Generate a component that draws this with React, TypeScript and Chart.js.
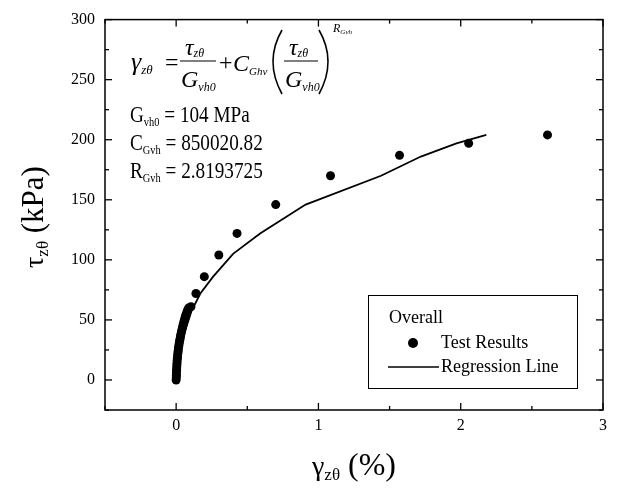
import React, { useEffect, useRef } from "react";
import { Chart, registerables } from "chart.js";

Chart.register(...registerables);

// Test results (gamma in %, tau in kPa)
const testX = [0, 0.001, 0.002, 0.002, 0.003, 0.004, 0.005, 0.006, 0.007, 0.009, 0.010, 0.012, 0.014, 0.016, 0.018, 0.021, 0.024, 0.027, 0.030, 0.033, 0.037, 0.041, 0.045, 0.049, 0.053, 0.058, 0.063, 0.068, 0.074, 0.080, 0.088, 0.104, 0.139, 0.198, 0.300, 0.428, 0.700, 1.085, 1.570, 2.056, 2.610];
const testY = [0, 2, 4, 6, 8, 10, 12, 14, 16, 18, 20, 22, 24, 26, 28, 30, 32, 34, 36, 38, 40, 42, 44, 46, 48, 50, 52, 54, 56, 58, 60, 61, 72, 86, 104, 122, 146, 170, 187, 197, 204];

// Regression line
const lineX = [0, 0.02, 0.06, 0.11, 0.17, 0.26, 0.40, 0.59, 0.91, 1.44, 1.72, 1.97, 2.18];
const lineY = [0, 20, 40, 58, 72, 86, 105, 122, 146, 170, 186, 197, 204];

// Axis ticks
const xMajor = [0, 1, 2, 3];
const xMinor = [-0.5, 0.5, 1.5, 2.5];
const yMajor = [0, 50, 100, 150, 200, 250, 300];
const yMinor = [-25, 25, 75, 125, 175, 225, 275];

const SERIF = "'Liberation Serif', 'Times New Roman', serif";

type Part = { t: string; size: number; italic?: boolean; dy?: number };

function drawRich(ctx: CanvasRenderingContext2D, parts: Part[], x: number, y: number, sx = 1) {
  let cx = x;
  for (const p of parts) {
    ctx.font = `${p.italic ? "italic " : ""}${p.size}px ${SERIF}`;
    ctx.save();
    ctx.translate(cx, y + (p.dy || 0));
    ctx.scale(sx, 1);
    ctx.fillText(p.t, 0, 0);
    ctx.restore();
    cx += ctx.measureText(p.t).width * sx;
  }
  return cx - x;
}

function richWidth(ctx: CanvasRenderingContext2D, parts: Part[], sx = 1) {
  let w = 0;
  for (const p of parts) {
    ctx.font = `${p.italic ? "italic " : ""}${p.size}px ${SERIF}`;
    w += ctx.measureText(p.t).width * sx;
  }
  return w;
}

const decorPlugin = {
  id: "decor",
  afterDraw(chart: any) {
    const ctx: CanvasRenderingContext2D = chart.ctx;
    const { left, right, top, bottom } = chart.chartArea;
    const xs = chart.scales.x;
    const ys = chart.scales.y;
    ctx.save();
    ctx.strokeStyle = "#000";
    ctx.fillStyle = "#000";
    ctx.lineWidth = 1.5;
    ctx.strokeRect(left, top, right - left, bottom - top);

    // inward ticks
    ctx.lineWidth = 1.3;
    const tick = (x1: number, y1: number, x2: number, y2: number) => {
      ctx.beginPath();
      ctx.moveTo(x1, y1);
      ctx.lineTo(x2, y2);
      ctx.stroke();
    };
    xMajor.forEach((v) => {
      const px = xs.getPixelForValue(v);
      tick(px, bottom, px, bottom - 7);
      tick(px, top, px, top + 7);
    });
    xMinor.forEach((v) => {
      const px = xs.getPixelForValue(v);
      tick(px, bottom, px, bottom - 4);
      tick(px, top, px, top + 4);
    });
    yMajor.forEach((v) => {
      const py = ys.getPixelForValue(v);
      tick(left, py, left + 7, py);
      tick(right, py, right - 7, py);
    });
    yMinor.forEach((v) => {
      const py = ys.getPixelForValue(v);
      tick(left, py, left + 4, py);
      tick(right, py, right - 4, py);
    });

    ctx.textBaseline = "alphabetic";
    ctx.textAlign = "left";

    // Axis titles
    drawRich(ctx, [
      { t: "γ", size: 28 },
      { t: "zθ", size: 17, dy: 5 },
      { t: " (%)", size: 32 },
    ], 312, 475);

    const yParts: Part[] = [
      { t: "τ", size: 28 },
      { t: "zθ", size: 17, dy: 5 },
      { t: " (kPa)", size: 31 },
    ];
    const yw = richWidth(ctx, yParts);
    ctx.save();
    ctx.translate(43, 217);
    ctx.rotate(-Math.PI / 2);
    drawRich(ctx, yParts, -yw / 2, 0);
    ctx.restore();

    // Formula
    const F = 24;
    const S = 12;
    drawRich(ctx, [{ t: "γ", size: 26, italic: true }, { t: "zθ", size: 13, italic: true, dy: 4 }], 131, 70);
    drawRich(ctx, [{ t: "=", size: F }], 165, 70);
    // fraction 1
    ctx.lineWidth = 1;
    tick(180, 61, 216, 61);
    drawRich(ctx, [{ t: "τ", size: F, italic: true }, { t: "zθ", size: S, italic: true, dy: 2 }], 185, 55);
    drawRich(ctx, [{ t: "G", size: F, italic: true }, { t: "vh0", size: S, italic: true, dy: 4 }], 181, 87);
    drawRich(ctx, [{ t: "+", size: F }], 219, 70);
    drawRich(ctx, [{ t: "C", size: F, italic: true }, { t: "Ghv", size: 11, italic: true, dy: 4 }], 233, 71);
    // parentheses
    ctx.lineWidth = 1.6;
    ctx.beginPath();
    ctx.moveTo(282, 30);
    ctx.quadraticCurveTo(264, 61, 282, 94);
    ctx.stroke();
    ctx.beginPath();
    ctx.moveTo(319, 30);
    ctx.quadraticCurveTo(337, 61, 319, 94);
    ctx.stroke();
    // fraction 2
    ctx.lineWidth = 1;
    tick(284, 61, 318, 61);
    drawRich(ctx, [{ t: "τ", size: F, italic: true }, { t: "zθ", size: S, italic: true, dy: 2 }], 289, 55);
    drawRich(ctx, [{ t: "G", size: F, italic: true }, { t: "vh0", size: S, italic: true, dy: 4 }], 285, 87);
    // exponent
    drawRich(ctx, [{ t: "R", size: 12, italic: true }, { t: "Gvh", size: 7, italic: true, dy: 2 }], 333, 32);

    // Parameters
    const P = 24;
    const sx = 0.8;
    drawRich(ctx, [{ t: "G", size: P }, { t: "vh0", size: 13, dy: 4 }, { t: " = 104 MPa", size: P }], 130, 122, sx);
    drawRich(ctx, [{ t: "C", size: P }, { t: "Gvh", size: 13, dy: 4 }, { t: " = 850020.82", size: P }], 130, 150, sx);
    drawRich(ctx, [{ t: "R", size: P }, { t: "Gvh", size: 13, dy: 4 }, { t: " = 2.8193725", size: P }], 130, 178, sx);

    // Legend
    ctx.lineWidth = 1;
    ctx.strokeRect(368.5, 295.5, 209, 93);
    ctx.font = `18px ${SERIF}`;
    ctx.fillText("Overall", 389, 323);
    ctx.beginPath();
    ctx.arc(413, 343, 5, 0, Math.PI * 2);
    ctx.fill();
    ctx.fillText("Test Results", 441, 348);
    ctx.lineWidth = 1.6;
    tick(388, 367, 439, 367);
    ctx.fillText("Regression Line", 441, 372);

    ctx.restore();
  },
};

export default function App() {
  const ref = useRef<HTMLCanvasElement | null>(null);

  useEffect(() => {
    document.body.style.margin = "0";
    const canvas = ref.current;
    if (!canvas) return;
    const chart = new Chart(canvas, {
      type: "scatter",
      data: {
        datasets: [
          {
            label: "Test Results",
            data: testX.map((x, i) => ({ x, y: testY[i] })),
            backgroundColor: "#000",
            borderColor: "#000",
            borderWidth: 0,
            pointRadius: 4.5,
            showLine: false,
          },
          {
            label: "Regression Line",
            data: lineX.map((x, i) => ({ x, y: lineY[i] })),
            borderColor: "#000",
            borderWidth: 1.8,
            pointRadius: 0,
            showLine: true,
            tension: 0,
          } as any,
        ],
      },
      options: {
        responsive: false,
        animation: false,
        devicePixelRatio: 1,
        layout: { padding: { top: 15, right: 14, left: 0, bottom: 0 } },
        plugins: { legend: { display: false }, tooltip: { enabled: false } },
        scales: {
          x: {
            type: "linear",
            min: -0.5,
            max: 3,
            grid: { display: false, drawTicks: false },
            border: { display: false },
            ticks: {
              stepSize: 0.5,
              autoSkip: false,
              maxRotation: 0,
              padding: 6,
              color: "#000",
              font: { family: SERIF, size: 16 },
              callback: (v: any) => (xMajor.includes(Number(v)) ? String(v) : ""),
            },
            afterFit: (s: any) => {
              s.height = 81;
            },
          },
          y: {
            type: "linear",
            min: -25,
            max: 300,
            grid: { display: false, drawTicks: false },
            border: { display: false },
            ticks: {
              stepSize: 25,
              autoSkip: false,
              padding: 10,
              color: "#000",
              font: { family: SERIF, size: 16 },
              callback: (v: any) => (yMajor.includes(Number(v)) ? String(v) : ""),
            },
            afterFit: (s: any) => {
              s.width = 105;
            },
          },
        },
      },
      plugins: [decorPlugin],
    });
    return () => chart.destroy();
  }, []);

  return (
    <div style={{ position: "absolute", left: 0, top: 0, width: 617, height: 491, background: "#fff" }}>
      <canvas ref={ref} width={617} height={491} style={{ width: 617, height: 491, display: "block" }} />
    </div>
  );
}
